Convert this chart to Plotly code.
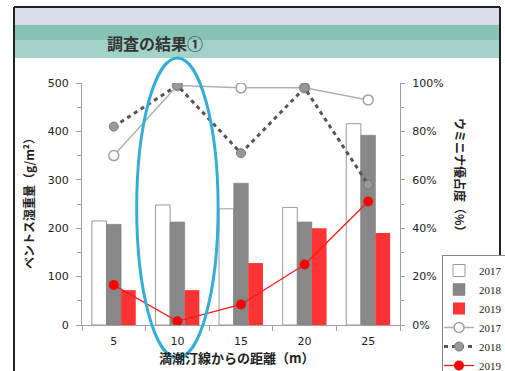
import plotly.graph_objects as go

# Distance from the high-tide line (m)
distances = ["5", "10", "15", "20", "25"]

# Benthos wet weight (g/m²) by year
benthos_2017 = [215, 248, 240, 243, 416]
benthos_2018 = [208, 213, 293, 213, 392]
benthos_2019 = [72, 72, 128, 200, 190]

# Batillaria dominance (%) by year
dominance_2017 = [70, 99, 98, 98, 93]
dominance_2018 = [82, 99, 71, 98, 58]
dominance_2019 = [16.5, 1.5, 8.5, 25, 51]

# Axis ticks
weight_ticks = [0, 100, 200, 300, 400, 500]
percent_ticks = [0, 20, 40, 60, 80, 100]
percent_labels = [f"{v}%" for v in percent_ticks]

W, H = 505, 371
ML, MR, MT, MB = 82, 105, 83, 46
PW, PH = W - ML - MR, H - MT - MB


def px(x):
    return (x - ML) / PW


def py(y):
    return (H - MB - y) / PH


JP = "Noto Sans CJK JP"
NUM = "DejaVu Sans"

fig = go.Figure()

fig.add_trace(go.Bar(x=distances, y=benthos_2017, name="2017",
                     marker=dict(color="white", line=dict(color="#9a9a9a", width=1))))
fig.add_trace(go.Bar(x=distances, y=benthos_2018, name="2018",
                     marker=dict(color="#888888", line=dict(color="#7a7a7a", width=0.5))))
fig.add_trace(go.Bar(x=distances, y=benthos_2019, name="2019",
                     marker=dict(color="#ff3333", line=dict(width=0))))

fig.add_trace(go.Scatter(x=distances, y=dominance_2017, name="2017", yaxis="y2",
                         mode="lines+markers",
                         line=dict(color="#b0b0b0", width=1.5),
                         marker=dict(symbol="circle", size=10, color="white",
                                     line=dict(color="#a0a0a0", width=1.5))))
fig.add_trace(go.Scatter(x=distances, y=dominance_2018, name="2018", yaxis="y2",
                         mode="lines+markers",
                         line=dict(color="#555555", width=3, dash="4px,4px"),
                         marker=dict(symbol="circle", size=9, color="#999999",
                                     line=dict(color="#777777", width=1))))
fig.add_trace(go.Scatter(x=distances, y=dominance_2019, name="2019", yaxis="y2",
                         mode="lines+markers",
                         line=dict(color="#ff1a1a", width=1.3),
                         marker=dict(symbol="circle", size=10, color="#ff0000")))

shapes = []
# header band: pale sky strip over a teal banner
shapes.append(dict(type="rect", xref="paper", yref="paper",
                   x0=px(14), x1=px(501), y0=py(25), y1=py(7),
                   fillcolor="#dcdfea", line=dict(width=0), layer="below"))
shapes.append(dict(type="rect", xref="paper", yref="paper",
                   x0=px(14), x1=px(501), y0=py(40), y1=py(25),
                   fillcolor="#86c3b5", line=dict(width=0), layer="below"))
shapes.append(dict(type="rect", xref="paper", yref="paper",
                   x0=px(14), x1=px(501), y0=py(58), y1=py(40),
                   fillcolor="#a3d3c8", line=dict(width=0), layer="below"))
# slide frame
for x0, y0, x1, y1 in [(14, 7, 500, 7), (14, 7, 14, 371), (500, 7, 500, 371)]:
    shapes.append(dict(type="line", xref="paper", yref="paper",
                       x0=px(x0), x1=px(x1), y0=py(y0), y1=py(y1),
                       line=dict(color="#222222", width=2)))
# highlight ring around the 10 m group
c10 = (distances.index("10") + 0.5) / len(distances)
shapes.append(dict(type="circle", xref="paper", yref="paper",
                   x0=c10 - 0.128, x1=c10 + 0.128, y0=py(358), y1=py(58),
                   line=dict(color="#35aed6", width=3), layer="above"))

annotations = [
    dict(text="<b>調査の結果①</b>", x=px(105), y=py(43), xref="paper", yref="paper",
         xanchor="left", yanchor="middle", showarrow=False,
         font=dict(family=JP, size=16, color="#333333")),
    dict(text="<b>ベントス湿重量（g/m²）</b>", x=px(28), y=py(201), xref="paper", yref="paper",
         xanchor="center", yanchor="middle",
         textangle=-90, showarrow=False, font=dict(family=JP, size=12, color="#222222")),
    dict(text="<b>ウミニナ優占度（%）</b>", x=px(461), y=py(178), xref="paper", yref="paper",
         xanchor="center", yanchor="middle",
         textangle=90, showarrow=False, font=dict(family=JP, size=12, color="#222222")),
    dict(text="<b>満潮汀線からの距離（m）</b>", x=px(237), y=py(357), xref="paper", yref="paper",
         xanchor="center", yanchor="middle",
         showarrow=False, font=dict(family=JP, size=13, color="#222222")),
]

fig.update_layout(
    width=W, height=H,
    margin=dict(l=ML, r=MR, t=MT, b=MB, pad=0, autoexpand=False),
    paper_bgcolor="white", plot_bgcolor="white",
    barmode="group", bargap=0.31, bargroupgap=0,
    showlegend=True,
    legend=dict(x=px(442), y=py(255), xanchor="left", yanchor="top",
                bordercolor="#888888", borderwidth=1, bgcolor="white",
                font=dict(family="Liberation Serif", size=11, color="#222222"),
                traceorder="normal", tracegroupgap=0, itemwidth=30,
                indentation=-4),
    xaxis=dict(type="category", range=[-0.5, 4.5], showgrid=False,
               showline=True, linecolor="#a0a0a0", linewidth=1,
               ticks="outside", ticklen=5, tickcolor="#a0a0a0", tickson="boundaries",
               ticklabelstandoff=6,
               tickfont=dict(family=NUM, size=11, color="#222222")),
    yaxis=dict(range=[0, 500], tickmode="array", tickvals=weight_ticks, showgrid=False,
               zeroline=False, showline=True, linecolor="#a0a0a0", linewidth=1,
               ticks="outside", ticklen=5, tickcolor="#a0a0a0",
               minor=dict(dtick=50, ticks="outside", ticklen=4, tickcolor="#a0a0a0"),
               ticklabelstandoff=5,
               tickfont=dict(family=NUM, size=11, color="#222222")),
    yaxis2=dict(range=[0, 100], overlaying="y", side="right",
                tickmode="array", tickvals=percent_ticks, ticktext=percent_labels,
                showgrid=False,
                zeroline=False, showline=True, linecolor="#a0a0a0", linewidth=1,
                ticks="outside", ticklen=4, tickcolor="#a0a0a0",
                minor=dict(dtick=10, ticks="outside", ticklen=3, tickcolor="#a0a0a0"),
                ticklabelstandoff=5,
                tickfont=dict(family=NUM, size=11, color="#222222")),
    shapes=shapes,
    annotations=annotations,
)

fig.write_html("out.html")
